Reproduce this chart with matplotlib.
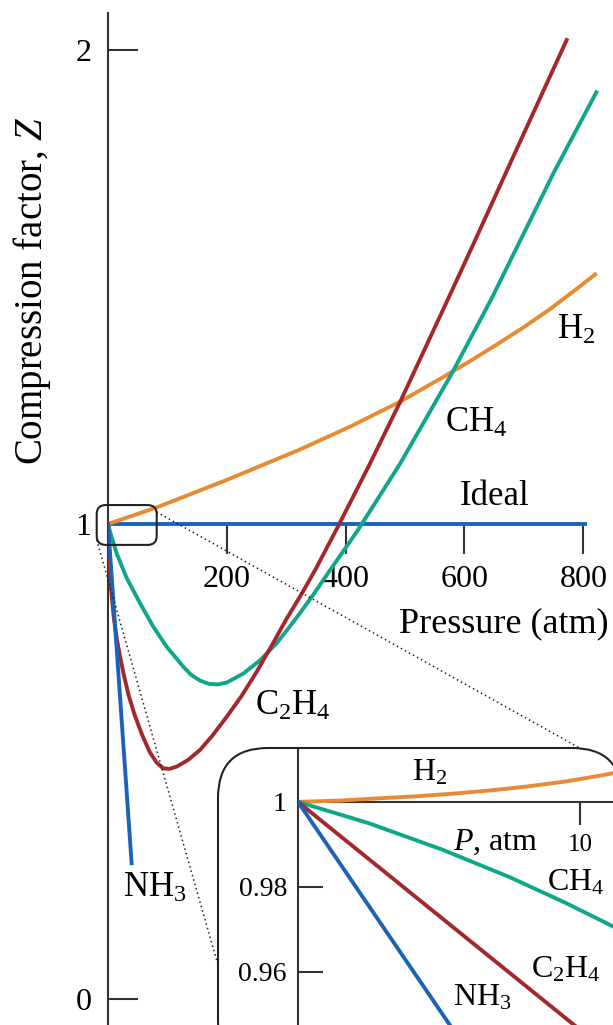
import matplotlib
matplotlib.use("Agg")
import matplotlib.pyplot as plt
from matplotlib.patches import FancyBboxPatch
from matplotlib.lines import Line2D
from matplotlib.transforms import IdentityTransform

plt.rcParams["font.family"] = ["Liberation Serif", "DejaVu Serif"]
plt.rcParams["mathtext.fontset"] = "custom"
plt.rcParams["mathtext.rm"] = "Liberation Serif"
plt.rcParams["mathtext.it"] = "Liberation Serif:italic"

# ── main panel: Z vs P (atm) ─────────────────────────────────
H2_P = [0, 84, 200, 323, 407, 492, 559, 609, 654, 699, 744, 783, 820]
H2_Z = [1.0, 1.036, 1.093, 1.157, 1.205, 1.258, 1.306, 1.343, 1.378, 1.414, 1.453, 1.49, 1.526]

CH4_P = [0, 5, 14.6, 31.5, 54, 76, 99, 127, 140, 155, 170, 185, 200, 228, 256, 284, 306, 323,
         346, 375, 405, 421, 492, 579, 646, 750, 822]
CH4_Z = [1.0, 0.977, 0.938, 0.886, 0.833, 0.784, 0.741, 0.699, 0.682, 0.670, 0.663, 0.662, 0.666,
         0.685, 0.713, 0.749, 0.784, 0.812, 0.852, 0.905, 0.959, 0.988, 1.128, 1.318, 1.476, 1.74, 1.91]

C2H4_P = [0, 2, 5, 10, 15, 20, 27, 35, 45, 57, 70, 82, 93, 104, 116, 135, 155, 175, 200, 225, 250,
          276, 300, 326, 350, 388, 440, 492, 573, 615, 682, 772]
C2H4_Z = [1.0, 0.93, 0.865, 0.80, 0.757, 0.722, 0.68, 0.638, 0.597, 0.557, 0.52, 0.497, 0.485, 0.484,
          0.489, 0.503, 0.524, 0.553, 0.594, 0.638, 0.688, 0.745, 0.799, 0.853, 0.906, 0.997, 1.125,
          1.258, 1.476, 1.59, 1.774, 2.02]

NH3_P = [0, 40]
NH3_Z = [1.0, 0.281]

IDEAL_P = [0, 806]
IDEAL_Z = [1.0, 1.0]

# ── inset: low pressure ──────────────────────────────────────
IN_H2_P = [0, 1.5, 2.79, 4.2, 5.63, 7.0, 8.11, 9.5, 10.83, 11.2]
IN_H2_Z = [1.0, 1.0003, 1.0008, 1.0013, 1.002, 1.0028, 1.0036, 1.0048, 1.0063, 1.0068]
IN_CH4_P = [0, 2.5, 5.14, 7.5, 9.5, 11.2]
IN_CH4_Z = [1.0, 0.995, 0.9887, 0.9823, 0.9762, 0.9706]
IN_C2H4_P = [0, 10.5]
IN_C2H4_Z = [1.0, 0.9437]
IN_NH3_P = [0, 5.6]
IN_NH3_Z = [1.0, 0.9454]

C_H2, C_CH4, C_C2H4, C_NH3 = "#E88A32", "#10A68A", "#A4282B", "#1C63B7"
AXC = "#333333"
LW = 2.8

W, H = 613, 1025
fig = plt.figure(figsize=(W / 100, H / 100), dpi=100)

# main axes
ax = fig.add_axes([108 / W, 0, (W - 108) / W, (H - 13) / H])
ax.set_xlim(0, 850)
ax.set_ylim(-0.0558, 2.077)
for s in ["top", "right"]:
    ax.spines[s].set_visible(False)
ax.spines["bottom"].set_position(("data", 1))
ax.spines["bottom"].set_color("none")
ax.spines["left"].set_color(AXC)
ax.spines["left"].set_linewidth(1.5)

ax.plot(IDEAL_P, IDEAL_Z, color=C_NH3, lw=LW, solid_capstyle="butt", zorder=3)
ax.plot(H2_P, H2_Z, color=C_H2, lw=LW, zorder=3)
ax.plot(CH4_P, CH4_Z, color=C_CH4, lw=LW, zorder=3)
ax.plot(C2H4_P, C2H4_Z, color=C_C2H4, lw=LW, zorder=3)
ax.plot(NH3_P, NH3_Z, color=C_NH3, lw=LW, solid_capstyle="butt", zorder=3)

ax.set_xticks([200, 400, 600, 800])
ax.set_xticklabels(["200", "400", "600", "800"])
ax.set_yticks([0, 1, 2])
ax.set_yticklabels(["0", "1", "2"])
ax.tick_params(axis="x", direction="out", length=21.6, width=1.5, color=AXC, labelsize=23, pad=8)
ax.tick_params(axis="y", direction="in", length=21.6, width=1.5, color=AXC, labelsize=23, pad=12)

ax.set_ylabel("Compression factor, $\\mathit{Z}$", fontsize=28)
ax.yaxis.set_label_coords(-0.108, 0.726)
ax.text(842, 0.79, "Pressure (atm)", fontsize=26, ha="right", va="center")

ax.text(788, 1.409, "H$_\\mathrm{2}$", fontsize=25, ha="center", va="center")
ax.text(619, 1.213, "CH$_\\mathrm{4}$", fontsize=25, ha="center", va="center")
ax.text(651, 1.057, "Ideal", fontsize=25, ha="center", va="center")
ax.text(311, 0.616, "C$_\\mathrm{2}$H$_\\mathrm{4}$", fontsize=25, ha="center", va="center")
ax.text(79, 0.233, "NH$_\\mathrm{3}$", fontsize=25, ha="center", va="center")

# small zoom box at origin (display px)
(bx0, by0) = ax.transData.transform((-19, 0.956))
(bx1, by1) = ax.transData.transform((82, 1.040))
zoom_box = FancyBboxPatch((bx0, by0), bx1 - bx0, by1 - by0,
                          boxstyle="round,pad=0,rounding_size=9",
                          transform=IdentityTransform(), fc="none", ec="#222222", lw=1.5, zorder=4)
fig.add_artist(zoom_box)

# inset frame (display px)
fx0, fy0, fx1, fy1 = 218, -45, 622, H - 748
frame = FancyBboxPatch((fx0, fy0), fx1 - fx0, fy1 - fy0,
                       boxstyle="round,pad=0,rounding_size=50",
                       transform=IdentityTransform(), fc="white", ec="#222222", lw=1.5, zorder=1)
fig.add_artist(frame)

# dotted connectors
fig.add_artist(Line2D([bx1, fx1 - 37], [by1 - 7, fy1 - 3], transform=IdentityTransform(),
                      color="#222222", lw=1.1, ls=(0, (1, 2)), zorder=0.9))
fig.add_artist(Line2D([bx0, fx0], [by0 + 5, 60], transform=IdentityTransform(),
                      color="#222222", lw=1.1, ls=(0, (1, 2)), zorder=0.9))

# inset axes
ins = fig.add_axes([298 / W, 0, (W - 298) / W, (H - 750) / H], zorder=2)
ins.patch.set_visible(False)
ins.set_xlim(0, 11.17)
ins.set_ylim(0.9475, 1.0122)
for s in ["top", "right"]:
    ins.spines[s].set_visible(False)
ins.spines["bottom"].set_position(("data", 1))
for s in ["left", "bottom"]:
    ins.spines[s].set_color(AXC)
    ins.spines[s].set_linewidth(1.5)

ins.plot(IN_H2_P, IN_H2_Z, color=C_H2, lw=LW, zorder=3)
ins.plot(IN_CH4_P, IN_CH4_Z, color=C_CH4, lw=LW, zorder=3)
ins.plot(IN_C2H4_P, IN_C2H4_Z, color=C_C2H4, lw=LW, zorder=3)
ins.plot(IN_NH3_P, IN_NH3_Z, color=C_NH3, lw=LW, zorder=3)

ins.set_xticks([10])
ins.set_xticklabels(["10"])
ins.set_yticks([0.96, 0.98, 1.0])
ins.set_yticklabels(["0.96", "0.98", "1"])
ins.tick_params(axis="x", direction="out", length=16.5, width=1.5, color=AXC, labelsize=18, pad=7)
ins.tick_params(axis="y", direction="in", length=18, width=1.5, color=AXC, labelsize=20, pad=8)

ins.text(4.68, 1.0068, "H$_\\mathrm{2}$", fontsize=23, ha="center", va="center")
ins.text(6.99, 0.9904, "$\\mathit{P}$, atm", fontsize=23, ha="center", va="center")
ins.text(9.86, 0.9809, "CH$_\\mathrm{4}$", fontsize=23, ha="center", va="center")
ins.text(9.50, 0.9605, "C$_\\mathrm{2}$H$_\\mathrm{4}$", fontsize=23, ha="center", va="center")
ins.text(6.52, 0.9539, "NH$_\\mathrm{3}$", fontsize=23, ha="center", va="center")

fig.savefig("out.png", dpi=100)
